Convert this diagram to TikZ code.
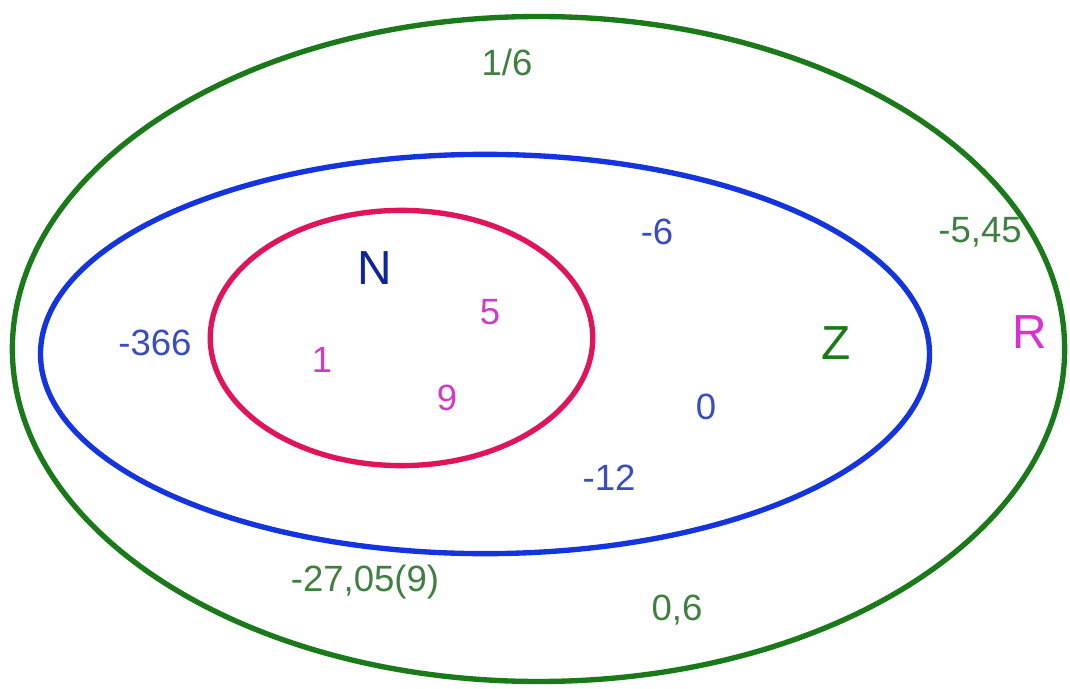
\documentclass[tikz,border=0pt]{standalone}
\usepackage{fontspec}
\setmainfont{Liberation Sans}
\definecolor{setR}{HTML}{1A7A1A}
\definecolor{setZ}{HTML}{1434E0}
\definecolor{setN}{HTML}{E0145A}
\definecolor{txtR}{HTML}{3F7F3F}
\definecolor{txtZ}{HTML}{3A4CC4}
\definecolor{txtN}{HTML}{D23CC4}
\tikzset{
  elem/.style={inner sep=0pt, font=\fontsize{26}{26}\selectfont},
  setname/.style={inner sep=0pt, font=\fontsize{34}{34}\selectfont}
}
\begin{document}
\begin{tikzpicture}[x=0.025cm, y=-0.025cm]
\useasboundingbox (0,0) rectangle (1070,689);
\draw[setR, line width=3.8pt] (538.5,349) ellipse (13.15cm and 8.31cm);
\draw[setZ, line width=3.8pt] (485,354) ellipse (11.11cm and 4.99cm);
\draw[setN, line width=3.8pt] (401.5,338) ellipse (4.78cm and 3.19cm);
% set names
\node[setname, text=setZ!70!black] (nameN) at (375,268) {N};
\node[setname, text=setR] (nameZ) at (836,343) {Z};
\node[setname, text=txtN!80!magenta] (nameR) at (1030,332) {R};
% natural numbers
\node[elem, text=txtN] (n5) at (490,312) {5};
\node[elem, text=txtN] (n1) at (322,360) {1};
\node[elem, text=txtN] (n9) at (447,398) {9};
% integers
\node[elem, text=txtZ] (zA) at (657,232) {-6};
\node[elem, text=txtZ] (zB) at (155,343) {-366};
\node[elem, text=txtZ] (zC) at (706,407) {0};
\node[elem, text=txtZ] (zD) at (609,478) {-12};
% reals
\node[elem, text=txtR] (rA) at (507,62) {1/6};
\node[elem, text=txtR] (rB) at (980,232) {-5,45};
\node[elem, text=txtR] (rC) at (365,582) {-27,05(9)};
\node[elem, text=txtR] (rD) at (677,610) {0,6};
\end{tikzpicture}
\end{document}
